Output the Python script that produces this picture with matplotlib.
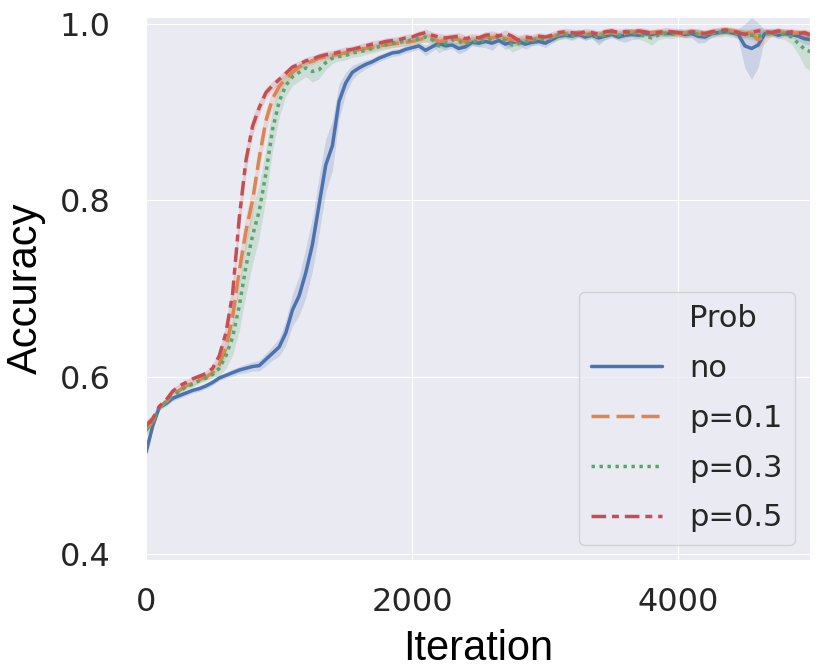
import numpy as np
import matplotlib
matplotlib.use("Agg")
import matplotlib.pyplot as plt
from matplotlib.lines import Line2D
import seaborn as sns

# iterations, every 50 steps
iters = np.arange(0, 5001, 50)

acc_no = [
    0.515, 0.545, 0.566, 0.570, 0.576, 0.579, 0.582, 0.585, 0.587, 0.590,
    0.594, 0.599, 0.602, 0.605, 0.608, 0.610, 0.612, 0.613, 0.620, 0.627,
    0.634, 0.650, 0.676, 0.692, 0.718, 0.750, 0.795, 0.840, 0.862, 0.912,
    0.933, 0.945, 0.950, 0.954, 0.957, 0.961, 0.964, 0.967, 0.968, 0.971,
    0.973, 0.975, 0.970, 0.974, 0.978, 0.975, 0.976, 0.972, 0.974, 0.979,
    0.978, 0.980, 0.978, 0.981, 0.977, 0.979, 0.980, 0.977, 0.979, 0.980,
    0.978, 0.982, 0.986, 0.987, 0.986, 0.988, 0.985, 0.987, 0.984, 0.986,
    0.988, 0.985, 0.987, 0.988, 0.987, 0.989, 0.988, 0.990, 0.989, 0.989,
    0.990, 0.988, 0.989, 0.986, 0.985, 0.989, 0.990, 0.991, 0.990, 0.988,
    0.975, 0.972, 0.976, 0.989, 0.990, 0.987, 0.989, 0.988, 0.986, 0.983,
    0.982]
acc_p1 = [
    0.540, 0.550, 0.566, 0.572, 0.580, 0.585, 0.590, 0.593, 0.597, 0.600,
    0.605, 0.614, 0.633, 0.668, 0.720, 0.765, 0.800, 0.848, 0.890, 0.915,
    0.929, 0.938, 0.945, 0.951, 0.955, 0.958, 0.961, 0.963, 0.964, 0.966,
    0.967, 0.970, 0.971, 0.972, 0.973, 0.975, 0.976, 0.977, 0.978, 0.979,
    0.980, 0.982, 0.984, 0.983, 0.980, 0.981, 0.983, 0.982, 0.979, 0.982,
    0.983, 0.985, 0.984, 0.986, 0.983, 0.982, 0.980, 0.983, 0.982, 0.984,
    0.983, 0.985, 0.988, 0.989, 0.988, 0.990, 0.988, 0.989, 0.987, 0.989,
    0.990, 0.988, 0.989, 0.991, 0.990, 0.989, 0.990, 0.991, 0.989, 0.990,
    0.989, 0.990, 0.991, 0.988, 0.989, 0.990, 0.991, 0.993, 0.992, 0.991,
    0.990, 0.989, 0.982, 0.986, 0.990, 0.991, 0.990, 0.989, 0.990, 0.988,
    0.986]
acc_p3 = [
    0.540, 0.550, 0.566, 0.572, 0.579, 0.584, 0.589, 0.592, 0.596, 0.599,
    0.603, 0.610, 0.624, 0.645, 0.680, 0.725, 0.760, 0.788, 0.830, 0.880,
    0.912, 0.930, 0.940, 0.945, 0.950, 0.946, 0.948, 0.956, 0.961, 0.963,
    0.964, 0.967, 0.968, 0.970, 0.972, 0.974, 0.976, 0.978, 0.979, 0.980,
    0.982, 0.983, 0.985, 0.982, 0.975, 0.978, 0.982, 0.980, 0.977, 0.981,
    0.979, 0.983, 0.982, 0.985, 0.981, 0.976, 0.978, 0.980, 0.981, 0.983,
    0.982, 0.984, 0.987, 0.988, 0.986, 0.989, 0.987, 0.988, 0.985, 0.987,
    0.989, 0.987, 0.989, 0.990, 0.988, 0.986, 0.984, 0.987, 0.989, 0.988,
    0.990, 0.989, 0.990, 0.988, 0.987, 0.989, 0.990, 0.991, 0.990, 0.989,
    0.988, 0.987, 0.986, 0.989, 0.990, 0.989, 0.988, 0.985, 0.978, 0.971,
    0.968]
acc_p5 = [
    0.545, 0.553, 0.567, 0.574, 0.584, 0.590, 0.594, 0.598, 0.601, 0.604,
    0.610, 0.624, 0.650, 0.694, 0.780, 0.845, 0.884, 0.905, 0.922, 0.930,
    0.937, 0.944, 0.951, 0.954, 0.958, 0.960, 0.963, 0.965, 0.966, 0.968,
    0.970, 0.971, 0.973, 0.975, 0.977, 0.978, 0.980, 0.981, 0.982, 0.984,
    0.985, 0.988, 0.990, 0.987, 0.985, 0.984, 0.985, 0.986, 0.983, 0.985,
    0.984, 0.987, 0.988, 0.986, 0.989, 0.986, 0.981, 0.985, 0.984, 0.986,
    0.985, 0.987, 0.990, 0.991, 0.990, 0.989, 0.991, 0.990, 0.988, 0.991,
    0.992, 0.990, 0.991, 0.990, 0.992, 0.991, 0.989, 0.990, 0.992, 0.991,
    0.990, 0.989, 0.991, 0.990, 0.989, 0.991, 0.992, 0.993, 0.992, 0.990,
    0.988, 0.990, 0.992, 0.991, 0.990, 0.992, 0.990, 0.991, 0.989, 0.990,
    0.987]

# half-width of the shaded confidence bands
band_no = [
    0.006, 0.005, 0.003, 0.003, 0.003, 0.003, 0.003, 0.003, 0.003, 0.003,
    0.003, 0.003, 0.003, 0.004, 0.004, 0.005, 0.005, 0.006, 0.007, 0.008,
    0.010, 0.014, 0.018, 0.022, 0.028, 0.030, 0.032, 0.030, 0.028, 0.020,
    0.012, 0.008, 0.006, 0.005, 0.004, 0.004, 0.004, 0.004, 0.004, 0.004,
    0.004, 0.004, 0.006, 0.005, 0.004, 0.005, 0.004, 0.006, 0.005, 0.004,
    0.004, 0.007, 0.008, 0.004, 0.006, 0.005, 0.004, 0.006, 0.004, 0.004,
    0.005, 0.004, 0.004, 0.003, 0.004, 0.003, 0.004, 0.003, 0.008, 0.004,
    0.003, 0.004, 0.008, 0.006, 0.004, 0.003, 0.003, 0.004, 0.003, 0.003,
    0.003, 0.004, 0.005, 0.008, 0.006, 0.004, 0.003, 0.003, 0.003, 0.006,
    0.025, 0.035, 0.025, 0.004, 0.003, 0.004, 0.003, 0.004, 0.005, 0.006,
    0.006]
band_p1 = [
    0.006, 0.005, 0.003, 0.003, 0.003, 0.003, 0.003, 0.003, 0.003, 0.003,
    0.004, 0.006, 0.010, 0.014, 0.018, 0.018, 0.016, 0.014, 0.012, 0.010,
    0.008, 0.006, 0.005, 0.004, 0.004, 0.004, 0.004, 0.004, 0.004, 0.004,
    0.004, 0.004, 0.004, 0.004, 0.004, 0.004, 0.004, 0.004, 0.004, 0.004,
    0.004, 0.004, 0.005, 0.004, 0.006, 0.004, 0.004, 0.005, 0.006, 0.004,
    0.004, 0.004, 0.005, 0.004, 0.004, 0.005, 0.006, 0.004, 0.004, 0.004,
    0.004, 0.004, 0.004, 0.004, 0.004, 0.004, 0.004, 0.004, 0.005, 0.004,
    0.004, 0.004, 0.004, 0.004, 0.004, 0.004, 0.004, 0.004, 0.004, 0.004,
    0.004, 0.004, 0.004, 0.005, 0.004, 0.004, 0.004, 0.004, 0.004, 0.004,
    0.004, 0.005, 0.010, 0.008, 0.004, 0.004, 0.004, 0.004, 0.004, 0.005,
    0.005]
band_p3 = [
    0.006, 0.005, 0.003, 0.003, 0.003, 0.003, 0.003, 0.003, 0.003, 0.003,
    0.004, 0.008, 0.014, 0.020, 0.028, 0.032, 0.032, 0.030, 0.028, 0.024,
    0.018, 0.012, 0.010, 0.010, 0.010, 0.012, 0.010, 0.008, 0.006, 0.005,
    0.005, 0.005, 0.005, 0.005, 0.005, 0.005, 0.005, 0.005, 0.005, 0.005,
    0.005, 0.005, 0.005, 0.006, 0.008, 0.007, 0.005, 0.005, 0.006, 0.005,
    0.005, 0.005, 0.005, 0.005, 0.006, 0.008, 0.007, 0.005, 0.005, 0.005,
    0.005, 0.005, 0.005, 0.005, 0.005, 0.005, 0.005, 0.005, 0.006, 0.005,
    0.005, 0.005, 0.005, 0.005, 0.005, 0.006, 0.008, 0.005, 0.005, 0.005,
    0.005, 0.005, 0.005, 0.005, 0.005, 0.005, 0.005, 0.005, 0.005, 0.005,
    0.005, 0.005, 0.005, 0.005, 0.005, 0.005, 0.006, 0.008, 0.012, 0.020,
    0.022]
band_p5 = [
    0.006, 0.005, 0.003, 0.003, 0.003, 0.003, 0.003, 0.003, 0.003, 0.003,
    0.004, 0.006, 0.010, 0.014, 0.016, 0.014, 0.010, 0.008, 0.006, 0.005,
    0.004, 0.004, 0.004, 0.004, 0.004, 0.004, 0.004, 0.004, 0.004, 0.004,
    0.004, 0.004, 0.004, 0.004, 0.004, 0.004, 0.004, 0.004, 0.004, 0.004,
    0.004, 0.004, 0.004, 0.004, 0.004, 0.004, 0.004, 0.004, 0.004, 0.004,
    0.004, 0.004, 0.004, 0.004, 0.004, 0.004, 0.006, 0.004, 0.004, 0.004,
    0.004, 0.004, 0.004, 0.004, 0.004, 0.004, 0.004, 0.004, 0.004, 0.004,
    0.004, 0.004, 0.004, 0.004, 0.004, 0.004, 0.004, 0.004, 0.004, 0.004,
    0.004, 0.004, 0.004, 0.004, 0.004, 0.004, 0.004, 0.004, 0.004, 0.004,
    0.004, 0.004, 0.004, 0.004, 0.004, 0.004, 0.004, 0.004, 0.004, 0.004,
    0.004]

labels = ["no", "p=0.1", "p=0.3", "p=0.5"]
legend_title = "Prob"
x_ticks = [0, 2000, 4000]
y_ticks = [0.4, 0.6, 0.8, 1.0]

sns.set_style("darkgrid")
plt.rcParams['font.family'] = ['DejaVu Sans']

colors = ["#4C72B0", "#DD8452", "#55A868", "#C44E52"]
dashes = [(None, None), (5.2, 2.0), (1.0, 1.3), (4.2, 1.7, 2.0, 1.7)]
series = [acc_no, acc_p1, acc_p3, acc_p5]
bands = [band_no, band_p1, band_p3, band_p5]

fig = plt.figure(figsize=(8.3, 6.69), dpi=100)
ax = fig.add_subplot(111)
fig.subplots_adjust(left=0.176, right=0.976, top=0.975, bottom=0.163)

handles = [Line2D([], [], color="none", label=legend_title)]
for y, b, c, d, lab in zip(series, bands, colors, dashes, labels):
    y = np.array(y)
    b = np.array(b)
    ax.fill_between(iters, y - b, y + b, color=c, alpha=0.2, linewidth=0)
    line, = ax.plot(iters, y, color=c, lw=2.5, label=lab)
    if d[0] is not None:
        line.set_dashes(d)
    handles.append(line)

ax.set_xlim(0, 4990)
ax.set_ylim(0.393, 1.008)
ax.set_xticks(x_ticks)
ax.set_yticks(y_ticks)
ax.set_xticklabels([str(t) for t in x_ticks])
ax.set_yticklabels(["%.1f" % t for t in y_ticks])
ax.tick_params(axis="y", labelsize=23, pad=22, colors=".15")
ax.tick_params(axis="x", labelsize=23, pad=16, colors=".15")

ax.set_xlabel("Iteration", fontsize=30, family="Liberation Sans", color="black", labelpad=8)
ax.set_ylabel("Accuracy", fontsize=30, family="Liberation Sans", color="black", labelpad=10)

leg = ax.legend(handles=handles, loc="lower right", fontsize=22,
                handlelength=2.3, handletextpad=0.9, labelspacing=0.68)
for t in leg.get_texts():
    t.set_color(".15")

fig.savefig("out.png", dpi=100)
